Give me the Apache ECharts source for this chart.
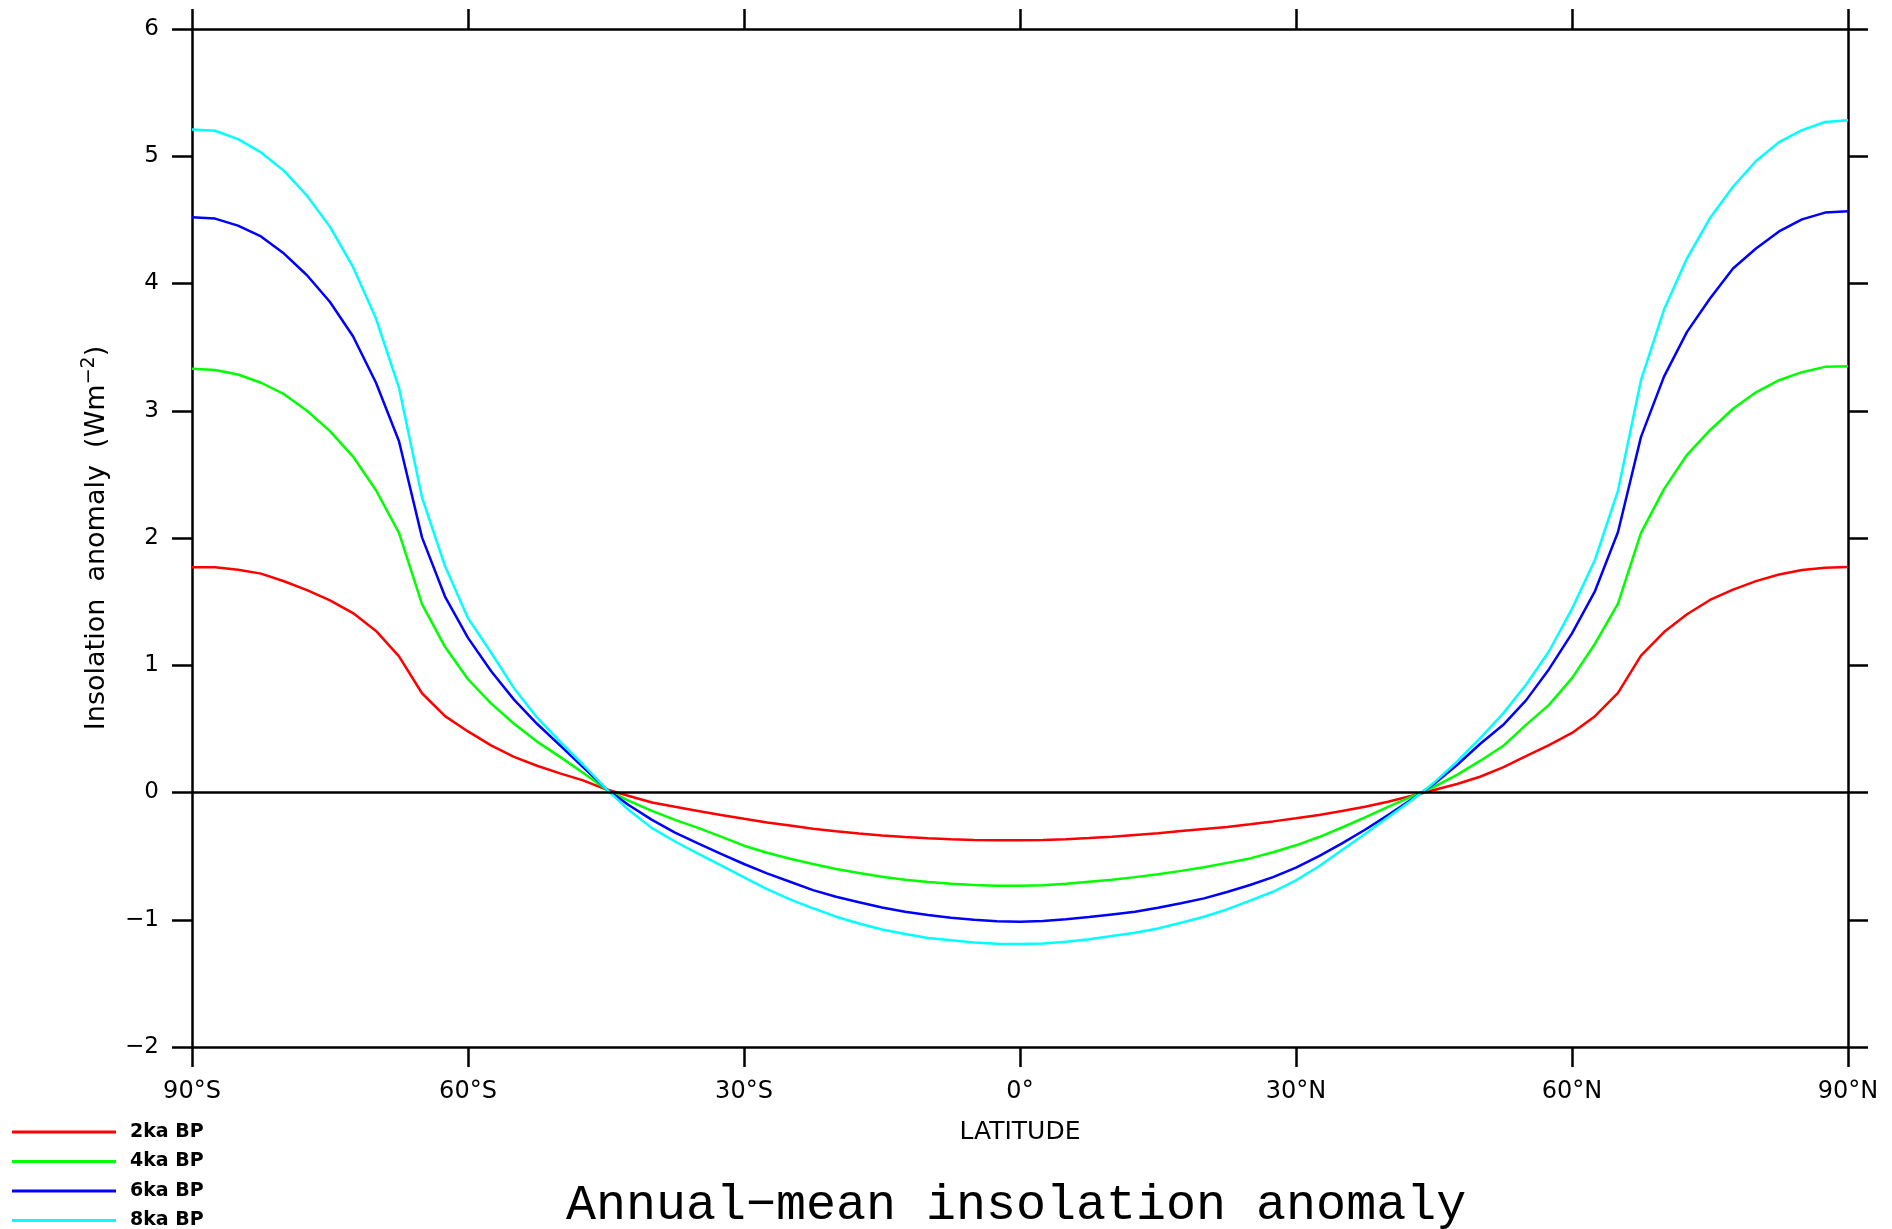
<!DOCTYPE html>
<html>
<head>
<meta charset="utf-8">
<script src="https://cdn.jsdelivr.net/npm/echarts@6/dist/echarts.min.js"></script>
<style>
html, body { margin: 0; padding: 0; background: #fff; }
#chart { width: 1892px; height: 1229px; }
</style>
</head>
<body>
<div id="chart"></div>
<script>
const latitude = [
  -90, -87.5, -85, -82.5, -80, -77.5, -75, -72.5, -70, -67.5, -65, -62.5,
  -60, -57.5, -55, -52.5, -50, -47.5, -45, -42.5, -40, -37.5, -35, -32.5,
  -30, -27.5, -25, -22.5, -20, -17.5, -15, -12.5, -10, -7.5, -5, -2.5,
  0,
  2.5, 5, 7.5, 10, 12.5, 15, 17.5, 20, 22.5, 25, 27.5, 30,
  32.5, 35, 37.5, 40, 42.5, 45, 47.5, 50, 52.5, 55, 57.5, 60,
  62.5, 65, 67.5, 70, 72.5, 75, 77.5, 80, 82.5, 85, 87.5, 90
]

const ins2ka = [
  1.77, 1.77, 1.75, 1.72, 1.66, 1.59, 1.51, 1.41, 1.27, 1.07, 0.78, 0.60,
  0.48, 0.37, 0.28, 0.21, 0.15, 0.095, 0.025, -0.028, -0.078, -0.112, -0.145, -0.177,
  -0.207, -0.235, -0.26, -0.285, -0.305, -0.322, -0.338, -0.35, -0.36, -0.367, -0.373, -0.376,
  -0.376,
  -0.373, -0.368, -0.358, -0.347, -0.334, -0.321, -0.303, -0.287, -0.271, -0.25, -0.227, -0.203,
  -0.176, -0.146, -0.112, -0.072, -0.028, 0.02, 0.067, 0.124, 0.197, 0.285, 0.373, 0.468,
  0.60, 0.783, 1.075, 1.261, 1.401, 1.513, 1.594, 1.661, 1.713, 1.748, 1.766, 1.773
]

const ins4ka = [
  3.33, 3.32, 3.285, 3.22, 3.13, 3.0, 2.84, 2.64, 2.375, 2.04, 1.48, 1.145,
  0.89, 0.70, 0.54, 0.40, 0.28, 0.155, 0.025, -0.065, -0.145, -0.215, -0.278, -0.347,
  -0.418, -0.473, -0.52, -0.562, -0.601, -0.633, -0.662, -0.685, -0.704, -0.717, -0.727, -0.732,
  -0.733,
  -0.728, -0.718, -0.702, -0.686, -0.665, -0.642, -0.616, -0.588, -0.553, -0.518, -0.47, -0.415,
  -0.35, -0.275, -0.195, -0.113, -0.035, 0.045, 0.138, 0.248, 0.365, 0.531, 0.689, 0.899,
  1.169, 1.485, 2.04, 2.384, 2.654, 2.847, 3.016, 3.145, 3.24, 3.303, 3.345, 3.349
]

const ins6ka = [
  4.52, 4.51, 4.455, 4.37, 4.235, 4.065, 3.855, 3.585, 3.22, 2.76, 2.005, 1.54,
  1.215, 0.955, 0.73, 0.54, 0.37, 0.20, 0.03, -0.10, -0.215, -0.315, -0.40, -0.483,
  -0.562, -0.635, -0.701, -0.767, -0.819, -0.863, -0.903, -0.937, -0.963, -0.984, -1.0, -1.011,
  -1.015,
  -1.01, -0.997, -0.979, -0.958, -0.937, -0.905, -0.871, -0.832, -0.782, -0.727, -0.665, -0.59,
  -0.5, -0.4, -0.293, -0.178, -0.058, 0.067, 0.216, 0.381, 0.53, 0.724, 0.969, 1.25,
  1.583, 2.047, 2.795, 3.268, 3.62, 3.882, 4.118, 4.275, 4.409, 4.504, 4.557, 4.567
]

const ins8ka = [
  5.21, 5.20, 5.135, 5.03, 4.885, 4.69, 4.445, 4.13, 3.725, 3.18, 2.32, 1.78,
  1.37, 1.10, 0.82, 0.59, 0.40, 0.22, 0.03, -0.14, -0.28, -0.385, -0.48, -0.573,
  -0.667, -0.759, -0.84, -0.91, -0.976, -1.029, -1.076, -1.112, -1.144, -1.162, -1.178, -1.188,
  -1.191,
  -1.186, -1.173, -1.154, -1.128, -1.102, -1.068, -1.023, -0.976, -0.918, -0.85, -0.78, -0.69,
  -0.58, -0.452, -0.326, -0.195, -0.064, 0.077, 0.242, 0.426, 0.62, 0.847, 1.11, 1.443,
  1.829, 2.373, 3.24, 3.795, 4.198, 4.514, 4.76, 4.963, 5.111, 5.205, 5.269, 5.283
]

const seriesNames = ["2ka BP", "4ka BP", "6ka BP", "8ka BP"]
const seriesColors = ["#ff0000", "#00ff00", "#0000ff", "#00ffff"]
const latTicks = [-90, -60, -30, 0, 30, 60, 90]
const latTickLabels = ["90°S", "60°S", "30°S", "0°", "30°N", "60°N", "90°N"]
const yTicks = [-2, -1, 0, 1, 2, 3, 4, 5, 6]
const yTickLabels = ["−2", "−1", "0", "1", "2", "3", "4", "5", "6"]

const sans = "DejaVu Sans"
const frame = {color: "#000", width: 2.5}

const chart = echarts.init(document.getElementById("chart"))

const xBase = {
  type: "value",
  min: -90,
  max: 90,
  interval: 30,
  axisLine: {show: true, onZero: false, lineStyle: frame},
  axisTick: {show: true, inside: false, length: 20, lineStyle: frame},
  splitLine: {show: false}
}
const yBase = {
  type: "value",
  min: -2,
  max: 6,
  interval: 1,
  axisLine: {show: true, onZero: false, lineStyle: frame},
  axisTick: {show: true, inside: false, length: 20, lineStyle: frame},
  splitLine: {show: false}
}

const allData = [ins2ka, ins4ka, ins6ka, ins8ka]

chart.setOption({
  animation: false,
  backgroundColor: "#fff",
  title: {
    text: "Annual−mean insolation anomaly",
    left: 566,
    top: 1181,
    padding: 0,
    textStyle: {fontFamily: "Liberation Mono", fontSize: 50, fontWeight: "normal", color: "#000"}
  },
  legend: {
    orient: "vertical",
    left: 12,
    top: 1122,
    height: 120,
    padding: 0,
    icon: "rect",
    itemWidth: 104,
    itemHeight: 3,
    itemGap: 9.5,
    data: seriesNames,
    textStyle: {fontFamily: sans, fontSize: 19, fontWeight: "bold", color: "#000", lineHeight: 20, padding: [0, 0, 0, 9]}
  },
  grid: {left: 192, right: 44, top: 29, bottom: 182, containLabel: false, outerBoundsMode: "none"},
  xAxis: [
    Object.assign({}, xBase, {
      position: "bottom",
      name: "LATITUDE",
      nameLocation: "middle",
      nameGap: 73,
      nameTextStyle: {fontFamily: sans, fontSize: 25, color: "#000"},
      axisLabel: {
        margin: 33,
        fontSize: 24,
        fontFamily: sans,
        color: "#000",
        formatter: v => latTickLabels[latTicks.indexOf(v)]
      }
    }),
    Object.assign({}, xBase, {position: "top", axisLabel: {show: false}})
  ],
  yAxis: [
    Object.assign({}, yBase, {
      position: "left",
      name: "Insolation  anomaly  (Wm{sup|−2})",
      nameLocation: "middle",
      nameGap: 78,
      nameTextStyle: {
        fontFamily: sans, fontSize: 27, color: "#000",
        rich: {sup: {fontFamily: sans, fontSize: 19, color: "#000", padding: [0, 0, 15, 0]}}
      },
      axisLabel: {
        margin: 33,
        fontSize: 23,
        fontFamily: sans,
        color: "#000",
        formatter: v => yTickLabels[yTicks.indexOf(v)]
      }
    }),
    Object.assign({}, yBase, {position: "right", axisLabel: {show: false}})
  ],
  series: seriesNames.map((name, i) => ({
    name: name,
    type: "line",
    showSymbol: false,
    symbol: "none",
    color: seriesColors[i],
    lineStyle: {color: seriesColors[i], width: 2.5},
    data: latitude.map((lat, j) => [lat, allData[i][j]]),
    markLine: i === 0 ? {
      silent: true,
      symbol: "none",
      label: {show: false},
      lineStyle: {color: "#000", type: "solid", width: 2.5},
      data: [{yAxis: 0}]
    } : undefined
  }))
})
</script>
</body>
</html>
